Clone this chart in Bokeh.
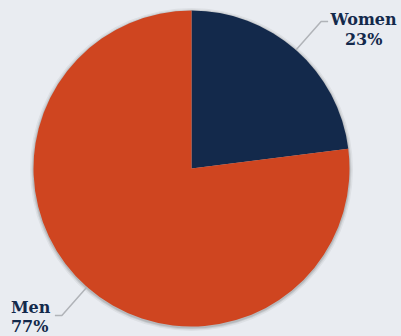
import math
from bokeh.plotting import figure
from bokeh.models import Range1d
from bokeh.core.properties import value
from bokeh.embed import file_html
from bokeh.resources import INLINE

# Data
categories = ["Women", "Men"]
shares = [23, 77]
colors = ["#13294b", "#cf4520"]
label_texts = ["23%", "77%"]

BG = "#e9ecf1"
W, H = 401, 336
cx, cy, r = 191, 168, 158

p = figure(width=W, height=H, output_backend="svg", toolbar_location=None,
           x_range=Range1d(0, W), y_range=Range1d(0, H), min_border=0)
p.axis.visible = False
p.grid.visible = False
p.outline_line_color = None
p.background_fill_color = BG
p.border_fill_color = BG

# soft shadow
for dr, a in [(3.5, 0.05), (2.0, 0.08), (1.0, 0.10)]:
    p.circle(x=[cx], y=[cy - 1], radius=r + dr, fill_color="black", fill_alpha=a, line_color=None)

total = sum(shares)
angle = math.pi / 2
for cat, s, c, pct in zip(categories, shares, colors, label_texts):
    span = 2 * math.pi * s / total
    start = angle - span
    end = angle
    p.wedge(x=[cx], y=[cy], radius=r, start_angle=start, end_angle=end,
            direction="anticlock", fill_color=c, line_color=None)
    mid = (start + end) / 2
    x0, y0 = cx + r * math.cos(mid), cy + r * math.sin(mid)
    r2 = r + 38
    x1, y1 = cx + r2 * math.cos(mid), cy + r2 * math.sin(mid)
    side = 1 if math.cos(mid) > 0 else -1
    x2 = x1 + side * 7
    p.line(x=[x0, x1, x2], y=[y0, y1, y1], line_color="#b0b3b8", line_width=1.5)
    if side > 0:
        tx, align, dy1, dy2 = x2 + 35.5, "center", 2, -18
    else:
        tx, align, dy1, dy2 = x2 - 44, "left", 8, -11
    p.text(x=[tx], y=[y1 + dy1], text=[cat], text_align=align, text_baseline="alphabetic",
           text_font=value("DejaVu Serif"), text_font_style="bold",
           text_font_size="16px", text_color="#13294b")
    p.text(x=[tx], y=[y1 + dy2], text=[pct], text_align=align, text_baseline="alphabetic",
           text_font=value("DejaVu Serif"), text_font_style="bold",
           text_font_size="16px", text_color="#13294b")
    angle = start

html = file_html(p, INLINE)
html = html.replace("<head>", "<head><style>html,body{background:%s;overflow:hidden}</style>" % BG, 1)
open("out.html", "w").write(html)
